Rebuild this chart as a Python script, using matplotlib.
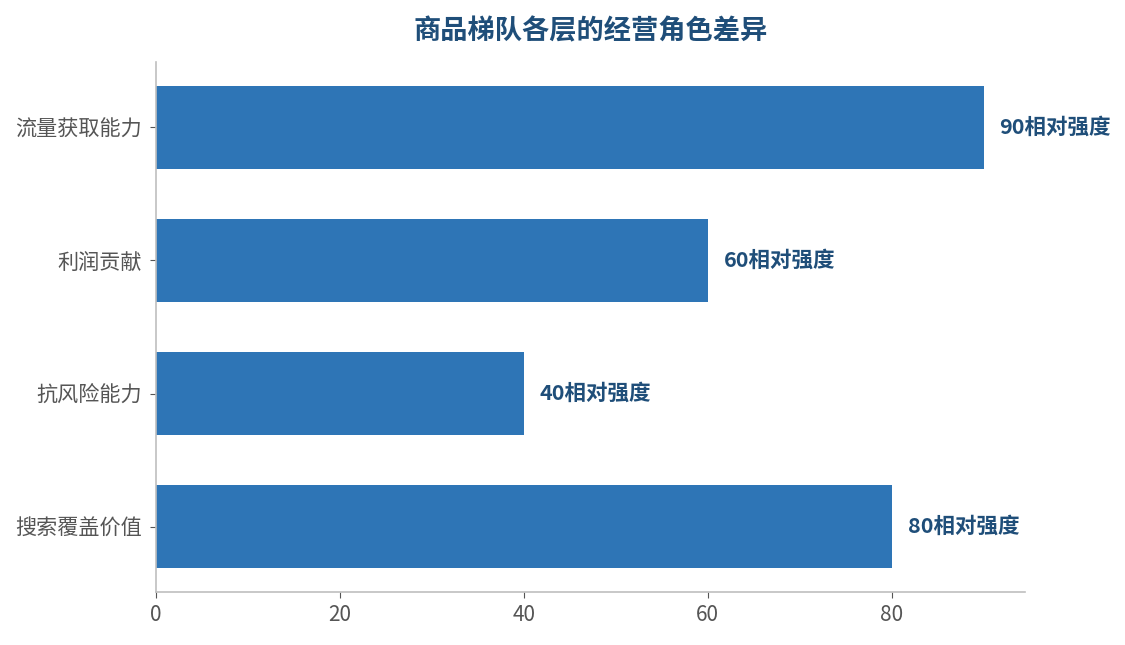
import matplotlib
matplotlib.use('Agg')
from matplotlib import pyplot as plt

plt.rcParams['font.family'] = ['Noto Sans CJK SC', 'DejaVu Sans']

categories = ['流量获取能力', '利润贡献', '抗风险能力', '搜索覆盖价值']
values = [90, 60, 40, 80]
value_suffix = '相对强度'
title = '商品梯队各层的经营角色差异'

bar_color = '#2e75b6'
dark_blue = '#1f4e79'
gray_text = '#555555'
spine_color = '#bfbfbf'

fig = plt.figure(figsize=(11.25, 6.45), dpi=100)
ax = fig.add_axes([0.1387, 0.0822, 0.7724, 0.8217])

y = list(range(len(categories)))
ax.barh(y, values, height=0.62, color=bar_color)
ax.set_yticks(y)
ax.set_yticklabels(categories)
ax.invert_yaxis()
ax.set_xlim(0, max(values) * 1.05)
ax.set_xticks([0, 20, 40, 60, 80])

for yi, v in zip(y, values):
    ax.annotate(f'{v}{value_suffix}', xy=(v, yi), xytext=(16, 0),
                textcoords='offset pixels',
                va='center', ha='left', fontsize=15.5, fontweight='bold',
                color=dark_blue)

for side in ['top', 'right']:
    ax.spines[side].set_visible(False)
for side in ['left', 'bottom']:
    ax.spines[side].set_color(spine_color)
    ax.spines[side].set_linewidth(1.2)

ax.tick_params(axis='y', labelsize=15.2, colors=gray_text, length=4, pad=6)
ax.tick_params(axis='x', labelsize=15, colors=gray_text, length=4, pad=5)
ax.tick_params(axis='both', color=gray_text)

fig.text(0.525, 0.952, title, ha='center', va='center', fontsize=19.6,
         fontweight='bold', color=dark_blue)

plt.savefig('out.png', dpi=100)
plt.close()
